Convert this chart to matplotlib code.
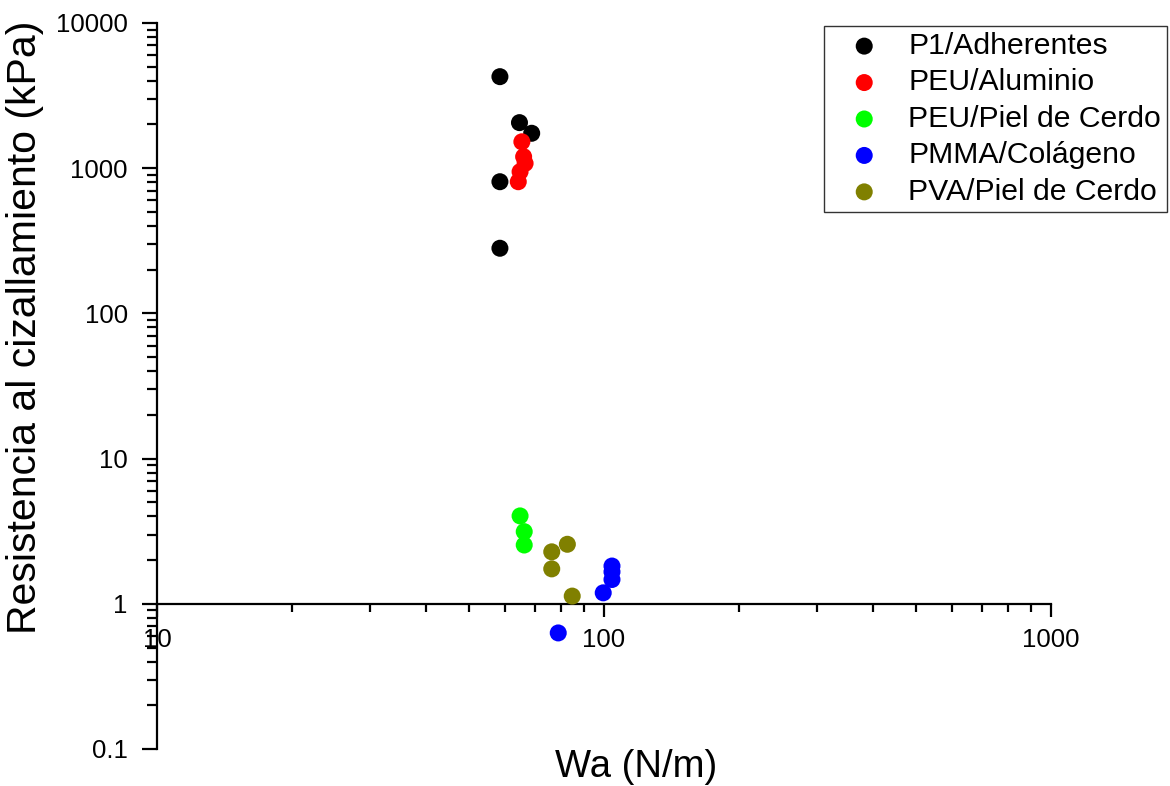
import matplotlib
matplotlib.use("Agg")
import matplotlib.pyplot as plt
from matplotlib.ticker import LogLocator, FixedLocator, FixedFormatter, NullFormatter

plt.rcParams['font.family'] = ['Liberation Sans', 'DejaVu Sans']

# ---- data ----
series_names = ["P1/Adherentes", "PEU/Aluminio", "PEU/Piel de Cerdo",
                "PMMA/Colágeno", "PVA/Piel de Cerdo"]
series_colors = ["#000000", "#FF0000", "#00FF00", "#0000FF", "#808000"]

p1_x = [58.5, 64.7, 68.9, 58.5, 58.5]
p1_y = [4270, 2060, 1740, 807, 281]

peu_al_x = [65.5, 66.1, 66.6, 64.9, 64.3]
peu_al_y = [1520, 1200, 1080, 946, 807]

peu_pc_x = [64.9, 66.3, 66.3]
peu_pc_y = [4.03, 3.14, 2.54]

pmma_x = [104.2, 104.2, 104.2, 99.6, 79.0]
pmma_y = [1.82, 1.66, 1.47, 1.19, 0.63]

pva_x = [76.4, 82.8, 76.4, 84.9]
pva_y = [2.28, 2.57, 1.74, 1.13]

xs = [p1_x, peu_al_x, peu_pc_x, pmma_x, pva_x]
ys = [p1_y, peu_al_y, peu_pc_y, pmma_y, pva_y]

x_ticks = [10, 100, 1000]
x_tick_labels = ["10", "100", "1000"]
y_ticks = [0.1, 1, 10, 100, 1000, 10000]
y_tick_labels = ["0.1", "1", "10", "100", "1000", "10000"]

x_label = "Wa (N/m)"
y_label = "Resistencia al cizallamiento (kPa)"

# ---- figure ----
W, H = 1170, 786
fig = plt.figure(figsize=(W / 100, H / 100), dpi=100)
ax = fig.add_axes([157 / W, 1 - 749 / H, (1051 - 157) / W, (749 - 23) / H])

for name, color, x, y in zip(series_names, series_colors, xs, ys):
    ax.scatter(x, y, s=150, color=color, edgecolors='none', label=name,
               zorder=3, clip_on=False)

ax.set_xscale('log')
ax.set_yscale('log')
ax.set_xlim(10, 1000)
ax.set_ylim(0.1, 10000)

ax.spines['top'].set_visible(False)
ax.spines['right'].set_visible(False)
ax.spines['bottom'].set_position(('data', 1))
for sp in ('left', 'bottom'):
    ax.spines[sp].set_linewidth(1.6)

ax.xaxis.set_major_locator(FixedLocator(x_ticks))
ax.xaxis.set_major_formatter(FixedFormatter(x_tick_labels))
ax.yaxis.set_major_locator(FixedLocator(y_ticks))
ax.yaxis.set_major_formatter(FixedFormatter(y_tick_labels))
ax.xaxis.set_minor_locator(LogLocator(base=10, subs=range(2, 10), numticks=20))
ax.yaxis.set_minor_locator(LogLocator(base=10, subs=range(2, 10), numticks=20))
ax.xaxis.set_minor_formatter(NullFormatter())
ax.yaxis.set_minor_formatter(NullFormatter())

ax.tick_params(axis='both', which='both', direction='out', width=1.6,
               labelsize=18.5, colors='black')
ax.tick_params(axis='x', which='major', length=9.5, pad=8)
ax.tick_params(axis='x', which='minor', length=5.5)
ax.tick_params(axis='y', which='major', length=11, pad=10)
ax.tick_params(axis='y', which='minor', length=7)

ax.set_xlabel(x_label, fontsize=27.5)
ax.xaxis.set_label_coords((636 - 157) / 894, (749 - 767) / 726)
ax.xaxis.label.set_verticalalignment('center')

ax.set_ylabel(y_label, fontsize=29.5)
ax.yaxis.set_label_coords((25 - 157) / 894, (749 - 327) / 726)
ax.yaxis.label.set_verticalalignment('center')

leg = ax.legend(loc='upper right', bbox_to_anchor=(1167 / W, 1 - 26 / H),
                bbox_transform=fig.transFigure, borderaxespad=0,
                fontsize=21.7, frameon=True, fancybox=False, labelspacing=0.28,
                handletextpad=0.33, borderpad=0.2, markerscale=1.0,
                handlelength=2.26)
leg.get_frame().set_edgecolor('black')
leg.get_frame().set_linewidth(1.0)

fig.savefig("out.png", dpi=100)
